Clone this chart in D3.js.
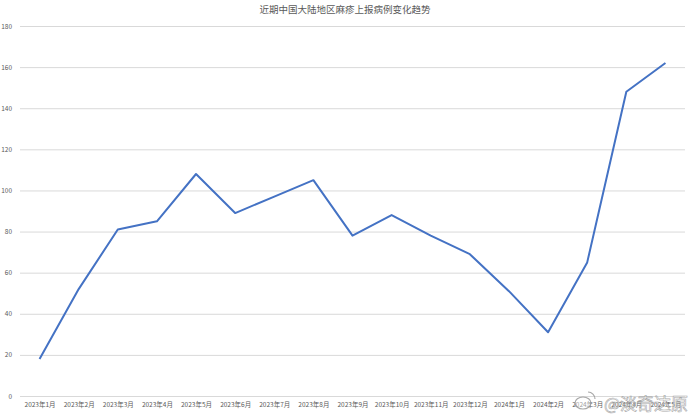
<!DOCTYPE html>
<html><head><meta charset="utf-8">
<script src="https://cdn.jsdelivr.net/npm/d3@7/dist/d3.min.js"></script>
<style>body{margin:0;background:#fff;} svg{display:block;}</style>
</head><body><svg id="c" width="690" height="414"></svg>
<script>
const title = "近期中国大陆地区麻疹上报病例变化趋势";
const months = ["2023年1月","2023年2月","2023年3月","2023年4月","2023年5月","2023年6月","2023年7月","2023年8月","2023年9月","2023年10月","2023年11月","2023年12月","2024年1月","2024年2月","2024年3月","2024年4月","2024年5月"];
const cases = [18,52,81,85,108,89,97,105,78,88,78,69,51,31,65,148,162];
const yTicks = [0,20,40,60,80,100,120,140,160,180];

const svg = d3.select("#c");
const font = "'Noto Sans CJK SC','Microsoft YaHei',sans-serif";
const x = d3.scalePoint().domain(months).range([20,685]).padding(0.5);
const y = d3.scaleLinear().domain([0,180]).range([396,26]);

svg.append("text").attr("x",345).attr("y",13).attr("text-anchor","middle")
  .attr("font-family",font).attr("font-size",9.5).attr("fill","#595959").text(title);

const yAxis = svg.append("g").attr("transform","translate(20,0)")
  .call(d3.axisLeft(y).tickValues(yTicks).tickSize(-665).tickPadding(8));
yAxis.select(".domain").remove();
yAxis.selectAll("line").attr("stroke","#d9d9d9").attr("stroke-width",1);
yAxis.selectAll("text").attr("font-family",font).attr("font-size",6.5).attr("fill","#595959");

const xAxis = svg.append("g").attr("transform","translate(0,396)")
  .call(d3.axisBottom(x).tickSize(0).tickPadding(6));
xAxis.select(".domain").remove();
xAxis.selectAll("text").attr("font-family",font).attr("font-size",6.5).attr("fill","#595959");

svg.append("path").datum(cases)
  .attr("fill","none").attr("stroke","#4472c4").attr("stroke-width",2)
  .attr("stroke-linejoin","round")
  .attr("d", d3.line().x((d,i)=>x(months[i])).y(d=>y(d)));

// weibo-style watermark
const wm = svg.append("g").attr("opacity",0.85);
wm.append("ellipse").attr("cx",583).attr("cy",403).attr("rx",8).attr("ry",6).attr("fill","rgba(255,255,255,0.5)").attr("stroke","#9a9a9a").attr("stroke-width",1.2);
wm.append("path").attr("d","M588,392 a7,7 0 0 1 7,7").attr("fill","none").attr("stroke","#9a9a9a").attr("stroke-width",1.2);
wm.append("text").attr("x",688).attr("y",410).attr("text-anchor","end")
  .attr("font-family",font).attr("font-size",17).attr("fill","rgba(255,255,255,0.55)")
  .attr("stroke","#9a9a9a").attr("stroke-width",0.6).text("@淡奇达原");
</script></body></html>
